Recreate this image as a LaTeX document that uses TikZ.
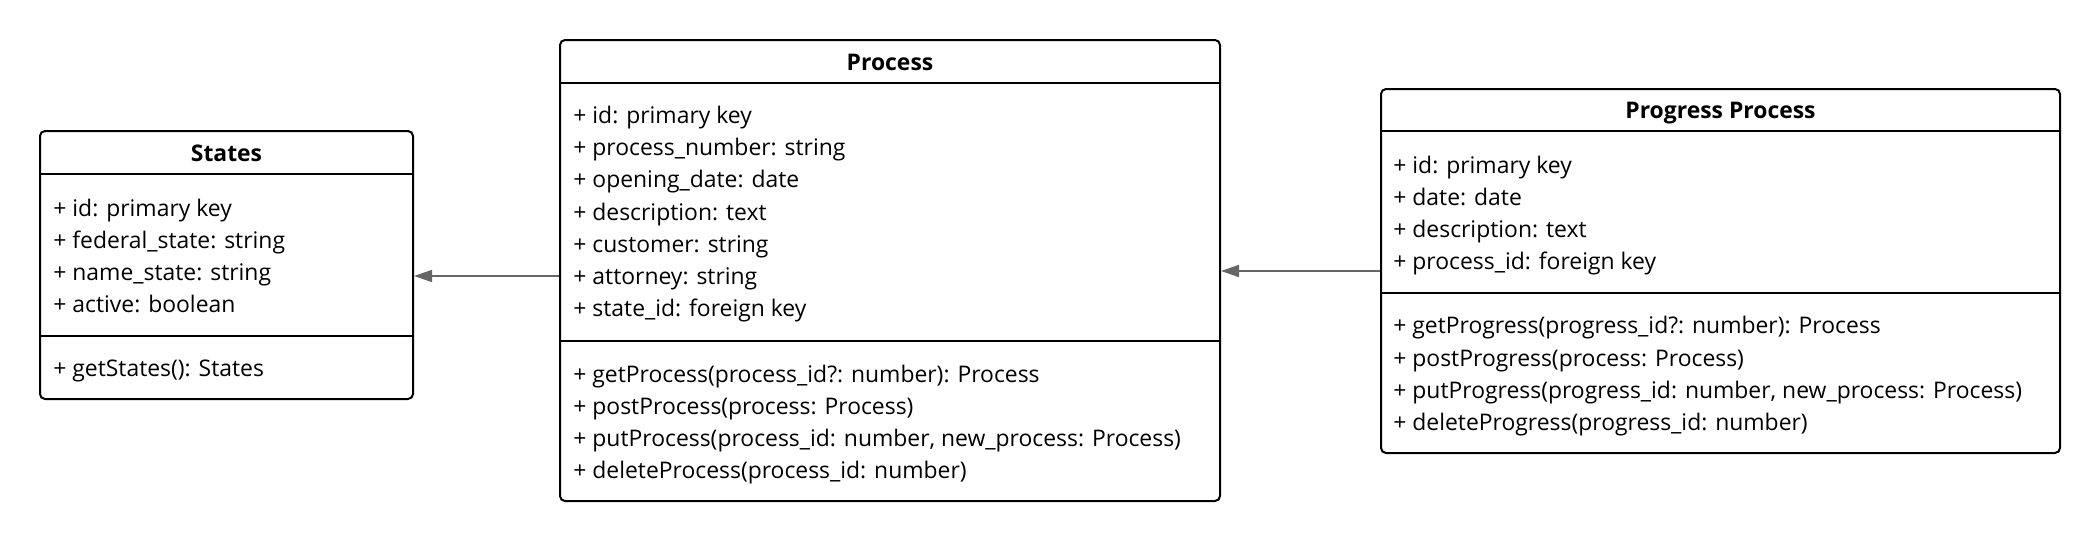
\documentclass[tikz,border=0pt]{standalone}
\usepackage{fontspec}
\setmainfont{Open Sans}
\usetikzlibrary{arrows.meta}
\definecolor{arrgray}{HTML}{666666}
\begin{document}
\begin{tikzpicture}[x=0.5pt,y=-0.5pt,
  cls/.style={draw=black, line width=1pt, rounded corners=2.5pt, inner sep=0pt, fill=white},
  row/.style={anchor=base west, inner sep=0pt, font=\fontsize{11.45}{13}\selectfont},
  hdr/.style={anchor=base, inner sep=0pt, font=\fontsize{11.45}{13}\selectfont\bfseries},
  div/.style={draw=black, line width=1pt},
  arr/.style={draw=arrgray, line width=0.8pt, -{Triangle[length=9pt,width=6pt]}}]
\useasboundingbox (0,0) rectangle (2100,542);
% class boxes
\node[cls, minimum width=186.5pt, minimum height=134pt] (states) at (226.5,265) {};
\node[cls, minimum width=330pt, minimum height=230.5pt] (process) at (890,270.5) {};
\node[cls, minimum width=339.5pt, minimum height=182pt] (progress) at (1720.5,271) {};
% divider levels
\coordinate (sH) at (0,174);
\coordinate (sD) at (0,336);
\coordinate (pH) at (0,82.5);
\coordinate (pD) at (0,340.5);
\coordinate (gH) at (0,131);
\coordinate (gD) at (0,293);
\draw[div] (states.west |- sH) -- (states.east |- sH);
\draw[div] (states.west |- sD) -- (states.east |- sD);
\draw[div] (process.west |- pH) -- (process.east |- pH);
\draw[div] (process.west |- pD) -- (process.east |- pD);
\draw[div] (progress.west |- gH) -- (progress.east |- gH);
\draw[div] (progress.west |- gD) -- (progress.east |- gD);
% States
\node[hdr] (statesT) at (226.5,161) {States};
\node[row] (s1) at (53,216) {+ id: primary key};
\node[row] (s2) at (53,248.2) {+ federal\_state: string};
\node[row] (s3) at (53,280.3) {+ name\_state: string};
\node[row] (s4) at (53,312.5) {+ active: boolean};
\node[row] (s5) at (53,376.7) {+ getStates(): States};
% Process
\node[hdr] (processT) at (890,70) {Process};
\node[row] (p1) at (573,123.5) {+ id: primary key};
\node[row] (p2) at (573,155.5) {+ process\_number: string};
\node[row] (p3) at (573,187.5) {+ opening\_date: date};
\node[row] (p4) at (573,220) {+ description: text};
\node[row] (p5) at (573,252.2) {+ customer: string};
\node[row] (p6) at (573,284.5) {+ attorney: string};
\node[row] (p7) at (573,316.5) {+ state\_id: foreign key};
\node[row] (p8) at (573,382.1) {+ getProcess(process\_id?: number): Process};
\node[row] (p9) at (573,414.2) {+ postProcess(process: Process)};
\node[row] (p10) at (573,446.4) {+ putProcess(process\_id: number, new\_process: Process)};
\node[row] (p11) at (573,478.5) {+ deleteProcess(process\_id: number)};
% Progress Process
\node[hdr] (progressT) at (1720.5,118) {Progress Process};
\node[row] (g1) at (1393,173.2) {+ id: primary key};
\node[row] (g2) at (1393,205.3) {+ date: date};
\node[row] (g3) at (1393,237.5) {+ description: text};
\node[row] (g4) at (1393,269.5) {+ process\_id: foreign key};
\node[row] (g5) at (1393,333.9) {+ getProgress(progress\_id?: number): Process};
\node[row] (g6) at (1393,366) {+ postProgress(process: Process)};
\node[row] (g7) at (1393,398.1) {+ putProgress(progress\_id: number, new\_process: Process)};
\node[row] (g8) at (1393,430.3) {+ deleteProgress(progress\_id: number)};
% connectors
\coordinate (a1) at (0,276);
\coordinate (a2) at (0,271);
\draw[arr] (process.west |- a1) -- (states.east |- a1);
\draw[arr] (progress.west |- a2) -- (process.east |- a2);
\end{tikzpicture}
\end{document}
